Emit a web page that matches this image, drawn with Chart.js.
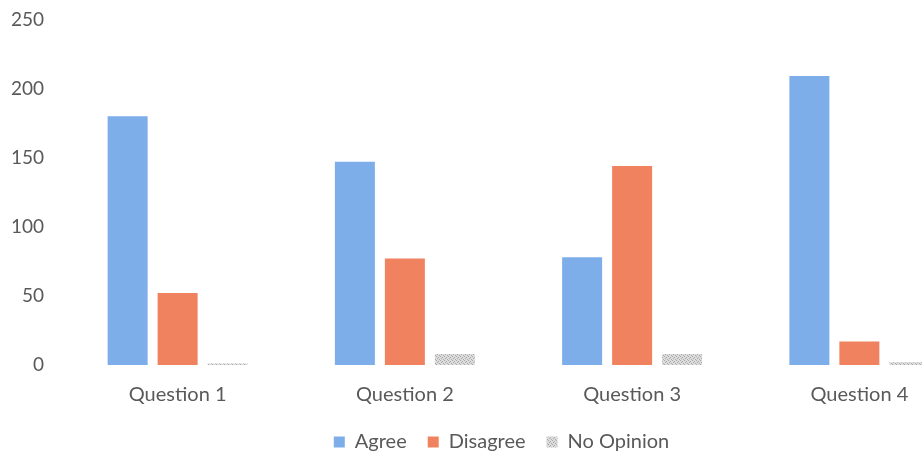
<!DOCTYPE html>
<html>
<head>
<meta charset="utf-8">
<script src="https://cdn.jsdelivr.net/npm/chart.js@4"></script>
<style>
  html, body { margin: 0; padding: 0; background: #fff; overflow: hidden; }
  #wrap { position: relative; width: 1000px; height: 474px; margin-top: -12px; }
</style>
</head>
<body>
<div id="wrap"><canvas id="survey"></canvas></div>
<script>
'use strict';

// ── Survey counts ─────────────────────────────────────────────────────────────
var questions  = ['Question 1', 'Question 2', 'Question 3', 'Question 4'];
var agree      = [180, 147, 78, 209];
var disagree   = [52, 77, 144, 17];
var noOpinion  = [1, 8, 8, 2];
var yTicks     = [0, 50, 100, 150, 200, 250];

// ── Stippled grey fill for "No Opinion" ──────────────────────────────────────
function makeStipple() {
  var c = document.createElement('canvas');
  c.width = 4; c.height = 4;
  var g = c.getContext('2d');
  g.fillStyle = '#dcdcdc';
  g.fillRect(0, 0, 4, 4);
  g.fillStyle = '#a9a9a9';
  g.fillRect(0, 0, 1, 1);
  g.fillRect(2, 1, 1, 1);
  g.fillRect(1, 2, 1, 1);
  g.fillRect(3, 3, 1, 1);
  return g.createPattern(c, 'repeat');
}

// ── Centre the legend over the whole canvas, not just the padded box ─────────
var legendShift = {
  id: 'legendShift',
  afterLayout: function (chart) {
    if (!chart.legend) return;
    chart.legend.left  += 15;
    chart.legend.right += 15;
  }
};

var textColor = '#595959';
var font      = 'Lato, "Open Sans", sans-serif';

new Chart(document.getElementById('survey').getContext('2d'), {
  type: 'bar',
  data: {
    labels: questions,
    datasets: [
      { label: 'Agree',      data: agree,     backgroundColor: '#7daeea' },
      { label: 'Disagree',   data: disagree,  backgroundColor: '#f0825f' },
      { label: 'No Opinion', data: noOpinion, backgroundColor: makeStipple() }
    ]
  },
  options: {
    responsive         : true,
    maintainAspectRatio: false,
    animation          : false,
    layout: { padding: { left: 0, right: 27, top: 0, bottom: 0 } },
    datasets: { bar: { categoryPercentage: 0.66, barPercentage: 0.8 } },
    plugins: {
      legend: {
        position: 'bottom',
        labels: {
          boxWidth : 11,
          boxHeight: 11,
          padding  : 21,
          color    : textColor,
          font     : { family: font, size: 20 }
        }
      },
      tooltip: { enabled: false }
    },
    scales: {
      x: {
        // pull the legend up under the category labels
        afterFit: function (axis) { axis.height -= 14; },
        grid  : { display: false, drawTicks: false },
        border: { display: false },
        ticks : { color: textColor, padding: 18, font: { family: font, size: 20 } }
      },
      y: {
        min: 0,
        max: 250,
        afterBuildTicks: function (axis) {
          axis.ticks = yTicks.map(function (v) { return { value: v }; });
        },
        afterFit: function (axis) { axis.width = 64; },
        grid  : { display: false, drawTicks: false },
        border: { display: false },
        ticks : { color: textColor, padding: 20, font: { family: font, size: 19 } }
      }
    }
  },
  plugins: [legendShift]
});
</script>
</body>
</html>
